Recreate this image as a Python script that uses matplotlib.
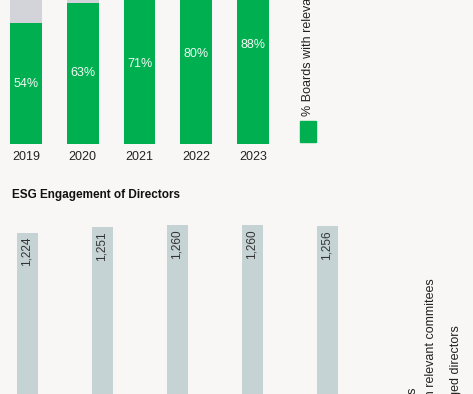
import matplotlib
matplotlib.use("Agg")
import matplotlib.pyplot as plt
from matplotlib.patches import Rectangle

years = ["2019", "2020", "2021", "2022", "2023"]
boards_pct = [54, 63, 71, 80, 88]
directors_total = [1224, 1251, 1260, 1260, 1256]

GREEN = "#00B050"
GREY = "#D3D4D9"
BLUE_GREY = "#C5D3D5"
BG = "#F8F7F5"
W, H = 473, 394

plt.rcParams["font.family"] = ["Liberation Sans", "DejaVu Sans"]


def box(x0, y0, x1, y1):
    # pixel box (top-left origin) -> figure fraction rect
    return [x0 / W, 1 - y1 / H, (x1 - x0) / W, (y1 - y0) / H]


def px(x, y):
    return x / W, 1 - y / H


fig = plt.figure(figsize=(W / 100, H / 100), dpi=100, facecolor=BG)

# top chart: % boards, 100% stacked
ax1 = fig.add_axes(box(0, -80, 290, 144))
ax1.set_facecolor(BG)
xs = range(len(years))
rest = [100 - v for v in boards_pct]
ax1.bar(xs, boards_pct, width=0.557, color=GREEN)
ax1.bar(xs, rest, bottom=boards_pct, width=0.557, color=GREY)
for i, v in enumerate(boards_pct):
    ax1.text(i, v / 2, f"{v}%", ha="center", va="center", color="#F2FAF4", fontsize=9)
ax1.set_xlim(-26 / 56.75, 264 / 56.75)
ax1.set_ylim(0, 100)
ax1.set_xticks(list(xs))
ax1.set_xticklabels(years, fontsize=9, color="#222222")
ax1.tick_params(axis="x", length=0, pad=5)
ax1.set_yticks([])
for s in ax1.spines.values():
    s.set_visible(False)

# legend for top chart
fig.patches.append(Rectangle(px(300, 142), 16 / W, 21 / H, transform=fig.transFigure,
                             color=GREEN))
fig.text(*px(308, 116), "% Boards with relevant committees", rotation=90,
         ha="center", va="bottom", fontsize=9, color="#222222")

# bottom chart: directors
fig.text(*px(12, 195), "ESG Engagement of Directors", fontsize=8.5,
         fontweight="bold", va="center", ha="left", color="#111111")

scale = 0.214  # px per director
ax2 = fig.add_axes(box(0, 225 - (1300 - 1260) * scale, 400, 225 + 1260 * scale))
ax2.set_facecolor(BG)
ax2.patch.set_alpha(0)
ax2.bar(xs, directors_total, width=0.28, color=BLUE_GREY)
for i, v in enumerate(directors_total):
    ax2.annotate(f"{v:,}", (i, v), xytext=(0, -3), textcoords="offset points",
                 rotation=90, ha="center", va="top", fontsize=8.5, color="#333333")
ax2.set_xlim(-27 / 75, 373 / 75)
ax2.set_ylim(0, 1300)
ax2.axis("off")

# legend for bottom chart (rotated, mostly out of view)
fig.text(*px(413, 388), "Total directors", rotation=90, ha="center", va="top",
         fontsize=9, color="#222222")
fig.text(*px(431, 278), "Directors on relevant commitees", rotation=90,
         ha="center", va="top", fontsize=9, color="#222222")
fig.text(*px(455.5, 325), "ESG-engaged directors", rotation=90,
         ha="center", va="top", fontsize=9, color="#222222")

fig.savefig("out.png", dpi=100, facecolor=BG)
